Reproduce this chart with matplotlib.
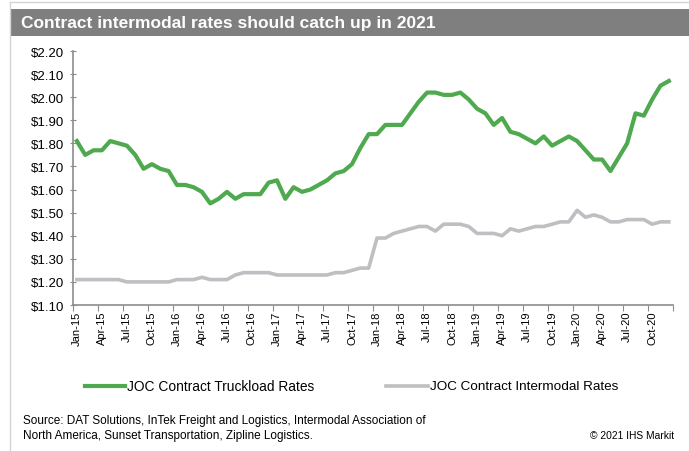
import numpy as np
import matplotlib.pyplot as plt
from matplotlib.patches import Rectangle
from matplotlib.lines import Line2D

plt.rcParams["font.family"] = ["Liberation Sans", "DejaVu Sans"]

# monthly, Jan-15 .. Dec-20
truckload = [
    1.81, 1.75, 1.77, 1.77, 1.81, 1.80, 1.79, 1.75, 1.69, 1.71, 1.69, 1.68,
    1.62, 1.62, 1.61, 1.59, 1.54, 1.56, 1.59, 1.56, 1.58, 1.58, 1.58, 1.63,
    1.64, 1.56, 1.61, 1.59, 1.60, 1.62, 1.64, 1.67, 1.68, 1.71, 1.78, 1.84,
    1.84, 1.88, 1.88, 1.88, 1.93, 1.98, 2.02, 2.02, 2.01, 2.01, 2.02, 1.99,
    1.95, 1.93, 1.88, 1.91, 1.85, 1.84, 1.82, 1.80, 1.83, 1.79, 1.81, 1.83,
    1.81, 1.77, 1.73, 1.73, 1.68, 1.74, 1.80, 1.93, 1.92, 1.99, 2.05, 2.07,
]
intermodal = [
    1.21, 1.21, 1.21, 1.21, 1.21, 1.21, 1.20, 1.20, 1.20, 1.20, 1.20, 1.20,
    1.21, 1.21, 1.21, 1.22, 1.21, 1.21, 1.21, 1.23, 1.24, 1.24, 1.24, 1.24,
    1.23, 1.23, 1.23, 1.23, 1.23, 1.23, 1.23, 1.24, 1.24, 1.25, 1.26, 1.26,
    1.39, 1.39, 1.41, 1.42, 1.43, 1.44, 1.44, 1.42, 1.45, 1.45, 1.45, 1.44,
    1.41, 1.41, 1.41, 1.40, 1.43, 1.42, 1.43, 1.44, 1.44, 1.45, 1.46, 1.46,
    1.51, 1.48, 1.49, 1.48, 1.46, 1.46, 1.47, 1.47, 1.47, 1.45, 1.46, 1.46,
]
months = ["Jan", "Apr", "Jul", "Oct"]
years = ["15", "16", "17", "18", "19", "20"]
tick_labels = [f"{m}-{y}" for y in years for m in months]
series_names = ["JOC Contract Truckload Rates", "JOC Contract Intermodal Rates"]

green = "#4ea94f"
grey = "#bfbfc3"
axis_grey = "#8c8c8c"

fig = plt.figure(figsize=(6.89, 4.52), dpi=100)
W, H = 689, 452
renderer = fig.canvas.get_renderer()


def fit(t, width_px):
    # scale font so the text spans the width measured on the reference
    w = t.get_window_extent(renderer).width
    t.set_fontsize(t.get_fontsize() * width_px / w)


# frame and title bar
fig.add_artist(Line2D([10 / W, 10 / W], [0, 1 - 3 / H], color="#d4d4d4", lw=1))
fig.add_artist(Line2D([10 / W, 1], [1 - 3 / H, 1 - 3 / H], color="#d4d4d4", lw=1))
fig.add_artist(Rectangle((10 / W, 1 - 37 / H), 1 - 10 / W, 27 / H,
                         transform=fig.transFigure, color="#7f7f7f", lw=0))
title = fig.text(21 / W, 1 - 23.5 / H, "Contract intermodal rates should catch up in 2021",
                 color="white", fontsize=12.5, fontweight="bold", va="center", ha="left")
fit(title, 416)

ax = fig.add_axes([72.7 / W, 1 - 306 / H, (673 - 72.7) / W, (306 - 52) / H])
x = np.arange(len(truckload))
ax.plot(x, truckload, color=green, lw=3.0, solid_joinstyle="round", zorder=3)
ax.plot(x, intermodal, color=grey, lw=2.6, solid_joinstyle="round", zorder=2)

ax.set_xlim(-0.5, len(truckload) - 0.5)
ax.set_ylim(1.10, 2.20)
yt = np.arange(1.10, 2.201, 0.10)
ax.set_yticks(yt)
ax.set_yticklabels([f"${v:.2f}" for v in yt], fontsize=9.5)

ax.set_xticks(np.arange(-0.5, len(truckload), 3))
ax.set_xticklabels([])
ax.set_xticks(np.arange(0, len(truckload), 3), minor=True)
ax.set_xticklabels(tick_labels, minor=True, rotation=90, fontsize=8)
ax.tick_params(axis="x", which="minor", length=0, pad=4)
ax.tick_params(axis="x", which="major", length=4, color=axis_grey, direction="out")
ax.tick_params(axis="y", length=4, color=axis_grey, direction="inout", pad=4)

for s in ["top", "right"]:
    ax.spines[s].set_visible(False)
for s in ["left", "bottom"]:
    ax.spines[s].set_color(axis_grey)
    ax.spines[s].set_linewidth(1.2)

# legend drawn by hand, Excel style
leg_y = 1 - 387 / H
for (x0, x1), name, col, lw, tw in zip([(85, 125), (386, 428)], series_names,
                                       [green, grey], [3.0, 2.6], [186, 188]):
    fig.add_artist(Line2D([x0 / W, x1 / W], [leg_y, leg_y], color=col, lw=lw))
    t = fig.text((x1 + 2) / W, leg_y, name, fontsize=9.5, va="center", ha="left")
    fit(t, tw)

src = fig.text(23 / W, 1 - 428.5 / H,
               "Source: DAT Solutions, InTek Freight and Logistics, Intermodal Association of\n"
               "North America, Sunset Transportation, Zipline Logistics.",
               fontsize=8, va="center", ha="left", linespacing=1.4)
fit(src, 404)
cr = fig.text(674 / W, 1 - 436 / H, "\u00a9 2021 IHS Markit", fontsize=8, va="center", ha="right")
fit(cr, 84)

fig.savefig("out.png", dpi=100)
